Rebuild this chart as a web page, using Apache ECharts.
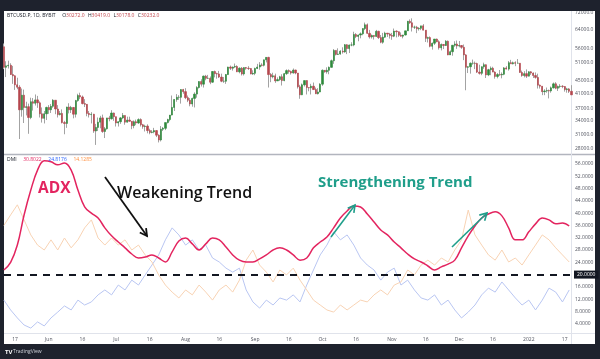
<!DOCTYPE html>
<html><head><meta charset="utf-8">
<script src="https://cdn.jsdelivr.net/npm/echarts@6/dist/echarts.min.js"></script>
<style>html,body{margin:0;padding:0;background:#1e222d}#c{width:600px;height:359px}</style>
</head><body><div id="c"></div><script>
// Daily candles BTCUSD.P (values in thousands) [open, high, low, close]
const candleStart = '2021-05-12';
const may21 = [[56.7,58.0,48.6,49.2],[49.2,51.3,46.0,49.7],[49.7,51.5,48.8,49.9],[49.9,50.6,46.7,46.8],[46.8,49.7,43.9,46.4],[46.4,46.6,42.1,43.6],[43.6,45.8,42.3,42.9],[42.9,43.5,30.0,36.7],[36.7,42.5,35.0,40.6],[40.6,42.2,33.5,37.3],[37.3,38.8,35.3,37.5],[37.5,38.3,31.1,34.8],[34.8,39.9,34.4,38.8],[38.8,39.8,36.5,38.4],[38.4,40.8,37.8,39.3],[39.3,40.4,37.2,38.5],[38.5,38.9,34.8,35.7],[35.7,37.3,33.6,34.6],[34.6,36.4,33.4,35.7],[35.7,37.5,34.2,37.3]];
const jun21 = [[37.3,37.9,35.7,36.7],[36.7,38.2,35.9,37.6],[37.6,39.5,37.2,39.2],[39.2,39.2,35.6,36.9],[36.9,37.9,34.8,35.5],[35.5,36.4,35.3,35.8],[35.8,36.8,33.4,33.6],[33.6,34.0,31.0,33.4],[33.4,37.5,32.4,37.4],[37.4,38.4,35.8,36.7],[36.7,37.7,35.9,37.3],[37.3,37.4,34.6,35.6],[35.6,39.3,34.8,39.1],[39.1,41.0,38.8,40.5],[40.5,41.3,39.5,40.1],[40.1,40.5,38.1,38.3],[38.3,39.5,37.4,38.1],[38.1,38.2,35.1,35.8],[35.8,36.4,34.8,35.5],[35.5,36.1,33.4,35.6],[35.6,35.7,31.3,31.7],[31.7,33.3,28.8,32.5],[32.5,34.8,31.7,33.7],[33.7,35.2,32.3,34.7],[34.7,35.5,31.3,31.6],[31.6,32.6,30.2,32.2],[32.2,34.7,32.0,34.7],[34.7,35.2,33.9,34.5],[34.5,36.6,34.3,35.9],[35.9,36.0,34.0,35.0]];
const jul21 = [[35.0,35.0,32.7,33.5],[33.5,33.9,32.7,33.8],[33.8,34.9,33.3,34.7],[34.7,35.9,34.4,35.3],[35.3,35.3,33.1,33.7],[33.7,35.0,33.6,34.2],[34.2,35.0,33.8,33.9],[33.9,33.9,32.1,32.9],[32.9,34.1,32.3,33.8],[33.8,34.3,33.0,33.5],[33.5,34.6,33.3,34.3],[34.3,34.6,32.7,33.1],[33.1,33.3,32.2,32.7],[32.7,33.1,31.6,32.8],[32.8,33.2,31.2,31.8],[31.8,32.2,31.0,31.4],[31.4,31.9,31.2,31.5],[31.5,32.4,31.2,31.8],[31.8,31.9,30.4,30.8],[30.8,31.0,29.3,29.8],[29.8,32.8,29.5,32.1],[32.1,32.6,31.7,32.3],[32.3,33.6,31.9,33.6],[33.6,34.5,33.4,34.3],[34.3,35.4,33.9,35.4],[35.4,40.5,35.3,37.3],[37.3,39.5,36.4,39.4],[39.4,40.9,38.8,40.0],[40.0,40.6,39.3,40.0],[40.0,42.3,38.3,42.2],[42.2,42.4,41.0,41.6]];
const aug21 = [[41.6,42.6,39.5,39.9],[39.9,40.5,38.7,39.2],[39.2,39.8,37.6,38.2],[38.2,39.9,37.5,39.7],[39.7,41.4,37.3,40.9],[40.9,43.2,39.9,42.8],[42.8,44.7,42.5,44.6],[44.6,45.3,43.1,43.8],[43.8,46.5,42.8,46.3],[46.3,46.7,45.0,45.6],[45.6,46.7,45.4,45.6],[45.6,46.2,43.8,44.4],[44.4,47.9,44.2,47.8],[47.8,48.1,45.9,47.1],[47.1,47.4,45.5,47.0],[47.0,48.0,45.7,46.0],[46.0,47.1,44.4,44.7],[44.7,46.0,44.2,44.7],[44.7,47.0,43.9,46.8],[46.8,49.4,46.7,49.3],[49.3,49.8,48.3,48.9],[48.9,49.5,48.1,49.3],[49.3,50.5,49.0,49.5],[49.5,49.9,47.6,47.7],[47.7,49.2,47.2,48.9],[48.9,49.3,46.5,47.0],[47.0,49.2,46.5,49.1],[49.1,49.3,48.4,48.9],[48.9,49.6,48.3,48.8],[48.8,48.9,46.9,47.0],[47.0,48.2,46.7,47.2]];
const sep21 = [[47.2,49.1,46.6,48.8],[48.8,50.4,48.6,49.3],[49.3,51.0,48.4,50.0],[50.0,50.6,49.5,49.9],[49.9,51.9,49.5,51.8],[51.8,52.8,50.9,52.7],[52.7,52.9,42.8,46.8],[46.8,47.3,44.4,46.1],[46.1,47.4,45.6,46.4],[46.4,47.1,44.2,44.8],[44.8,45.9,44.8,45.2],[45.2,46.4,44.8,46.1],[46.1,46.9,43.4,44.9],[44.9,47.3,44.7,47.1],[47.1,48.5,46.7,48.1],[48.1,48.5,47.1,47.8],[47.8,48.1,46.8,47.3],[47.3,48.8,47.1,48.3],[48.3,48.4,46.9,47.3],[47.3,47.3,42.5,43.0],[43.0,43.6,39.6,40.7],[40.7,44.0,40.6,43.6],[43.6,44.9,43.1,44.9],[44.9,45.0,40.8,42.8],[42.8,42.9,41.7,42.7],[42.7,43.9,40.8,43.2],[43.2,44.3,42.1,42.2],[42.2,42.8,40.9,41.0],[41.0,42.6,40.8,41.5],[41.5,44.1,41.4,43.8]];
const oct21 = [[43.8,48.5,43.3,48.2],[48.2,48.3,47.4,47.7],[47.7,49.2,47.1,48.2],[48.2,49.5,46.9,49.2],[49.2,51.9,49.1,51.5],[51.5,55.8,50.4,55.3],[55.3,55.3,53.4,53.8],[53.8,56.1,53.6,53.9],[53.9,55.4,53.7,55.0],[55.0,56.5,54.1,54.7],[54.7,57.8,54.4,57.5],[57.5,57.7,53.9,56.0],[56.0,57.6,54.3,57.4],[57.4,58.5,56.9,57.4],[57.4,62.9,56.9,61.7],[61.7,62.3,60.2,60.9],[60.9,61.7,58.9,61.5],[61.5,62.6,60.1,62.0],[62.0,64.4,61.4,64.3],[64.3,67.0,63.6,66.0],[66.0,66.6,62.0,62.2],[62.2,63.7,60.0,60.7],[60.7,61.7,60.0,61.3],[61.3,61.4,59.6,60.9],[60.9,63.7,60.7,63.1],[63.1,63.3,59.8,60.4],[60.4,61.5,58.1,58.5],[58.5,62.4,57.9,60.6],[60.6,62.9,60.3,62.3],[62.3,62.3,60.7,61.9],[61.9,62.4,60.0,61.3]];
const nov21 = [[61.3,62.4,59.5,61.0],[61.0,64.3,60.6,63.2],[63.2,63.5,60.5,62.9],[62.9,63.0,60.7,61.4],[61.4,62.6,60.8,61.0],[61.0,61.6,60.1,61.5],[61.5,63.3,61.3,63.3],[63.3,67.8,63.3,67.6],[67.6,68.5,66.4,66.9],[66.9,69.0,63.0,64.9],[64.9,65.6,64.1,64.9],[64.9,65.5,62.3,64.2],[64.2,64.9,63.4,64.4],[64.4,65.5,63.6,65.5],[65.5,66.3,63.5,63.6],[63.6,63.6,58.6,60.1],[60.1,60.8,58.4,60.4],[60.4,60.9,56.5,56.9],[56.9,58.4,55.6,58.1],[58.1,59.8,57.4,59.8],[59.8,60.0,58.5,58.7],[58.7,59.3,55.6,56.3],[56.3,58.0,55.3,57.6],[57.6,57.8,55.8,57.2],[57.2,59.4,57.0,58.9],[58.9,59.2,53.5,53.6],[53.6,55.3,53.6,54.8],[54.8,57.4,53.3,57.3],[57.3,58.9,56.7,57.8],[57.8,59.2,55.9,57.0]];
const dec21 = [[57.0,59.0,56.5,57.2],[57.2,57.4,55.9,56.5],[56.5,57.6,51.7,53.6],[53.6,53.9,42.0,49.2],[49.2,49.6,47.3,49.4],[49.4,50.9,47.1,50.6],[50.6,51.9,50.1,50.6],[50.6,51.2,48.6,50.5],[50.5,50.8,47.3,47.6],[47.6,50.1,46.8,47.2],[47.2,49.5,46.6,49.4],[49.4,50.8,48.7,50.1],[50.1,50.2,45.7,46.7],[46.7,48.7,46.3,48.4],[48.4,49.5,46.6,48.9],[48.9,49.4,47.6,47.6],[47.6,47.9,45.5,46.2],[46.2,47.3,45.6,46.8],[46.8,48.3,46.4,46.7],[46.7,47.5,45.6,46.9],[46.9,49.3,46.6,49.0],[49.0,49.6,48.5,48.6],[48.6,51.4,48.1,50.8],[50.8,51.8,50.5,50.4],[50.4,51.2,50.2,50.8],[50.8,51.3,49.6,50.6],[50.6,52.1,50.5,50.6],[50.6,50.7,47.4,47.5],[47.5,48.1,46.1,46.5],[46.5,47.9,45.9,47.1],[47.1,48.5,45.7,46.3]];
const jan22 = [[46.3,47.9,46.2,47.7],[47.7,47.9,46.7,47.3],[47.3,47.5,45.7,46.5],[46.5,47.5,45.5,45.9],[45.9,47.1,42.5,43.5],[43.5,43.7,42.5,43.2],[43.2,43.2,40.6,41.6],[41.6,42.3,40.6,41.8],[41.8,42.8,41.3,41.9],[41.9,42.2,39.7,41.8],[41.8,43.1,41.3,42.7],[42.7,44.3,42.5,43.9],[43.9,44.4,42.3,42.6],[42.6,43.4,41.8,43.1],[43.1,43.8,42.6,43.2],[43.2,43.5,42.6,43.1],[43.1,43.2,41.6,42.2],[42.2,42.7,41.3,42.4],[42.4,42.6,41.2,41.7],[41.7,43.5,40.6,40.7]];

// DMI readings
const dmiDates = ['2021-05-12','2021-05-15','2021-05-18','2021-05-21','2021-05-24','2021-05-27','2021-05-30','2021-06-02','2021-06-05','2021-06-08','2021-06-11','2021-06-14','2021-06-17','2021-06-20','2021-06-23','2021-06-26','2021-06-29','2021-07-02','2021-07-05','2021-07-08','2021-07-11','2021-07-14','2021-07-17','2021-07-20','2021-07-23','2021-07-26','2021-07-29','2021-08-01','2021-08-04','2021-08-07','2021-08-10','2021-08-13','2021-08-16','2021-08-19','2021-08-22','2021-08-25','2021-08-28','2021-08-31','2021-09-03','2021-09-06','2021-09-09','2021-09-12','2021-09-15','2021-09-18','2021-09-21','2021-09-24','2021-09-27','2021-09-30','2021-10-03','2021-10-06','2021-10-09','2021-10-12','2021-10-15','2021-10-18','2021-10-21','2021-10-24','2021-10-27','2021-10-30','2021-11-02','2021-11-05','2021-11-08','2021-11-11','2021-11-14','2021-11-17','2021-11-20','2021-11-23','2021-11-26','2021-11-29','2021-12-02','2021-12-05','2021-12-08','2021-12-11','2021-12-14','2021-12-17','2021-12-20','2021-12-23','2021-12-26','2021-12-29','2022-01-01','2022-01-04','2022-01-07','2022-01-10','2022-01-13','2022-01-16','2022-01-19'];
const adx = [21.5,24,29.6,39.4,47.5,54,57,56.7,55.7,56.3,54,47.5,42,40,38.4,35.2,32.6,30.6,28.7,26.7,25.4,25.7,26.4,25.4,24.1,27.4,30.9,31.9,30,28,30,31.9,31.3,29,26.4,24.7,24.1,24.1,25.1,26.4,28,28.7,28,26.4,24.7,25.4,28.7,30.6,32.2,35.2,38.4,40.7,42.3,42,39.7,37.1,34.5,32.9,30.6,28.7,26.7,25.1,24.1,22.8,21.5,22.5,23.4,24.7,28.7,32.6,35.8,38.4,39.7,40.4,39.1,35.2,31.3,31.3,33.9,36.5,38.4,37.8,36.5,36.8,35.8];
const plusDI = [11.7,8.5,5.9,3.6,2.6,4.6,3.3,5.9,7.8,9.8,8.5,11.7,10.1,11.1,13.4,15,13.4,16.6,15,18.2,16.6,19.9,23.1,26.4,31.3,35.2,32.9,29.6,31.3,28,29.6,25.4,24.1,22.1,20.8,22.1,15,11.1,9.1,11.7,10.1,12.4,11.7,13.4,11.1,16.6,21.5,26.4,29.6,33.9,31.3,32.9,29.6,25.4,23.1,21.5,18.2,20.8,22.1,16.6,18.2,15,12.4,11.7,13.4,10.1,11.7,8.5,5.9,7.8,10.1,13.4,15.6,14.3,17.6,15,12.4,10.1,11.7,8.5,11.7,15.6,14.3,11.1,15];
const minusDI = [36,39.4,42.7,37.8,32.9,29.6,28,31.3,28,31.9,28.7,31.3,35.2,37.8,31.9,29.6,31.9,29.6,31.3,28,29.6,26.4,24.1,19.9,16.6,14.3,12.4,15,13.4,16.6,14.3,11.7,15,16.6,14.3,18.2,24.7,28,23.1,20.8,17.6,21.5,19.9,22.1,18.2,15,11.7,10.1,8.5,7.8,10.1,8.5,10.1,11.7,11.1,13.4,15,13.4,16.6,17.6,21.5,19.9,23.1,24.7,23.1,25.4,24.1,28,31.3,41,32.9,29.6,26.4,24.7,28,24.1,25.4,23.1,26.4,29.6,32.9,31.3,28.7,26.4,24.1];

// axis tick labels
const timeTicks = ['2021-05-17','2021-06-01','2021-06-16','2021-07-01','2021-07-16','2021-08-01','2021-08-16','2021-09-01','2021-09-16','2021-10-01','2021-10-16','2021-11-01','2021-11-16','2021-12-01','2021-12-16','2022-01-01','2022-01-17'];
const timeTickLabels = ['17','Jun','16','Jul','16','Aug','16','Sep','16','Oct','16','Nov','16','Dec','16','2022','17'];
const priceTicks = [28, 31, 34, 37, 41, 45, 51, 56, 64, 72];
const dmiTicks = [4, 8, 12, 16, 24, 28, 32, 36, 40, 44, 48, 52, 56];

function ts(s){const p=s.split('-').map(Number);return Date.UTC(p[0],p[1]-1,p[2]);}
const DAY = 86400000;
const candles = [].concat(may21,jun21,jul21,aug21,sep21,oct21,nov21,dec21,jan22);
const t0 = ts(candleStart);
const wickData = candles.map((c,i)=>[t0+i*DAY, c[0], c[3], c[2], c[1]]);
const bodyData = candles.map((c,i)=>[t0+i*DAY, c[0], c[3], Math.min(c[0],c[3]), Math.max(c[0],c[3])]);
const lineOf = arr => arr.map((v,i)=>[ts(dmiDates[i]), v]);
const tickMap = {}; timeTicks.forEach((d,i)=>tickMap[ts(d)] = timeTickLabels[i]);

const xMin = ts('2021-05-12') + 0.05*DAY, xMax = ts('2022-01-20') + 0.25*DAY;
const FONT = '"Open Sans", "Noto Sans", sans-serif';
const axisLbl = {color:'#50535e', fontSize:5, fontFamily:FONT};

function arrow(x1,y1,x2,y2,color,w,h){
  const a=Math.atan2(y2-y1,x2-x1), L=h, s=0.5;
  const p1=[x2-L*Math.cos(a-s), y2-L*Math.sin(a-s)], p2=[x2-L*Math.cos(a+s), y2-L*Math.sin(a+s)];
  return [
    {type:'line', z:50, shape:{x1,y1,x2,y2}, style:{stroke:color,lineWidth:w}},
    {type:'polyline', z:50, shape:{points:[p1,[x2,y2],p2]}, style:{stroke:color,lineWidth:w,fill:null}}
  ];
}

const chart = echarts.init(document.getElementById('c'), null, {renderer:'canvas'});
chart.setOption({
  animation:false,
  backgroundColor:'#1e222d',
  grid:[
    {left:4, right:28, top:11, height:143},
    {left:4, right:28, top:155, height:178}
  ],
  xAxis:[
    {type:'value', gridIndex:0, min:xMin, max:xMax, axisLabel:{show:false}, axisTick:{show:false}, axisLine:{show:false}, splitLine:{show:false}},
    {type:'value', gridIndex:1, min:xMin, max:xMax,
      axisLabel:Object.assign({customValues:timeTicks.map(ts), formatter:v=>tickMap[v]||'', margin:4, hideOverlap:false}, axisLbl),
      axisTick:{show:false}, axisLine:{show:false}, splitLine:{show:false}}
  ],
  yAxis:[
    {type:'log', gridIndex:0, position:'right', min:27.05, max:72.58, logBase:10,
      axisLabel:Object.assign({customValues:priceTicks, formatter:v=>(v*1000).toFixed(1), margin:3, align:'left'}, axisLbl),
      axisTick:{show:false}, axisLine:{show:false}, splitLine:{show:false}},
    {type:'value', gridIndex:1, position:'right', min:1, max:58.9,
      axisLabel:Object.assign({customValues:dmiTicks, formatter:v=>v.toFixed(4), margin:3, align:'left'}, axisLbl),
      axisTick:{show:false}, axisLine:{show:false}, splitLine:{show:false}}
  ],
  series:[
    {type:'candlestick', xAxisIndex:0, yAxisIndex:0, data:wickData, barWidth:1,
      itemStyle:{color:'#a3a3a3', color0:'#a3a3a3', borderColor:'#a3a3a3', borderColor0:'#a3a3a3', borderWidth:1}},
    {type:'candlestick', xAxisIndex:0, yAxisIndex:0, data:bodyData, barWidth:1.7,
      itemStyle:{color:'#2f8a3c', color0:'#b5464e', borderColor:'#2f8a3c', borderColor0:'#b5464e', borderWidth:0.6}},
    {type:'line', xAxisIndex:1, yAxisIndex:1, data:lineOf(plusDI), showSymbol:false, lineStyle:{color:'#b9c6f2', width:1}, z:3},
    {type:'line', xAxisIndex:1, yAxisIndex:1, data:lineOf(minusDI), showSymbol:false, lineStyle:{color:'#f8d3b4', width:1}, z:3},
    {type:'line', xAxisIndex:1, yAxisIndex:1, data:lineOf(adx), showSymbol:false, smooth:0.4, lineStyle:{color:'#e3245f', width:1.5}, z:5,
      markLine:{silent:true, symbol:['none','none'], data:[{yAxis:20}],
        lineStyle:{color:'#131722', type:[7,6], width:1.8},
        label:{position:'end', distance:2, formatter:'20.0000', color:'#fff', backgroundColor:'#131722', fontSize:5, fontFamily:FONT, padding:[2,3,1,3]}}}
  ],
  graphic:[
    {type:'rect', z:-10, shape:{x:4, y:11, width:591, height:333}, style:{fill:'#ffffff'}},
    {type:'line', z:-5, shape:{x1:4,y1:154.5,x2:595,y2:154.5}, style:{stroke:'#b2b5be', lineWidth:1.5}},
    {type:'line', z:-5, shape:{x1:4,y1:333.5,x2:595,y2:333.5}, style:{stroke:'#e0e3eb', lineWidth:1}},
    {type:'line', z:-5, shape:{x1:571.5,y1:11,x2:571.5,y2:344}, style:{stroke:'#e0e3eb', lineWidth:1}},
    {type:'rect', z:100, shape:{x:0, y:0, width:600, height:11}, style:{fill:'#1e222d'}},
    {type:'text', z:60, style:{x:7, y:16, text:'{t|BTCUSD.P, 1D, BYBIT}  {t|O}{v|30272.0} {t|H}{v|30419.0} {t|L}{v|30178.0} {t|C}{v|30232.0}', verticalAlign:'middle',
      rich:{t:{fill:'#131722', fontSize:5, fontFamily:FONT}, v:{fill:'#c2484f', fontSize:5, fontFamily:FONT}}}},
    {type:'text', z:60, style:{x:7, y:160, text:'{t|DMI}  {a|30.8022}  {b|24.8176}  {c|14.1285}', verticalAlign:'middle',
      rich:{t:{fill:'#131722', fontSize:5, fontFamily:FONT}, a:{fill:'#e3245f', fontSize:5, fontFamily:FONT}, b:{fill:'#2962ff', fontSize:5, fontFamily:FONT}, c:{fill:'#ff8f3f', fontSize:5, fontFamily:FONT}}}},
    {type:'text', z:60, style:{x:38, y:189, text:'ADX', fill:'#e3245f', font:'bold 15.5px '+FONT, verticalAlign:'middle'}},
    {type:'text', z:60, style:{x:117, y:193, text:'Weakening Trend', fill:'#111111', font:'600 16px '+FONT, verticalAlign:'middle'}},
    {type:'text', z:60, style:{x:318, y:183, text:'Strengthening Trend', fill:'#1f9e8a', font:'bold 15px '+FONT, verticalAlign:'middle'}},
    ...arrow(105,177,147,236,'#111111',1.8,8),
    ...arrow(331,237,355,205,'#1f9e8a',1.6,8),
    ...arrow(452,247,487,213,'#1f9e8a',1.6,8),
    {type:'text', z:60, style:{x:5, y:352, text:'TV', fill:'#ffffff', font:'bold 6px '+FONT, verticalAlign:'middle'}},
    {type:'text', z:60, style:{x:13, y:352, text:'TradingView', fill:'#d1d4dc', font:'5px '+FONT, verticalAlign:'middle'}}
  ]
});
</script></body></html>
